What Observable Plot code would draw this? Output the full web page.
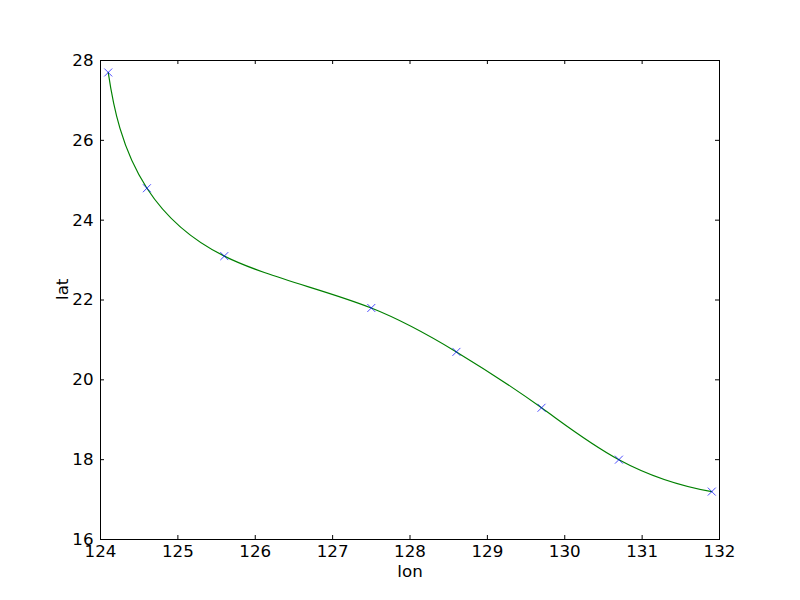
<!DOCTYPE html>
<html>
<head>
<meta charset="utf-8">
<script src="https://cdn.jsdelivr.net/npm/d3@7"></script>
<script src="https://cdn.jsdelivr.net/npm/@observablehq/plot@0.6"></script>
<style>
  html, body { margin: 0; padding: 0; background: #fff; }
  svg { display: block; }
</style>
</head>
<body>
<div id="chart"></div>
<script>
const lon = [124.1, 124.6, 125.6, 127.5, 128.6, 129.7, 130.7, 131.9];
const lat = [27.7, 24.8, 23.1, 21.8, 20.7, 19.3, 18.0, 17.2];
const xTicks = [124, 125, 126, 127, 128, 129, 130, 131, 132];
const yTicks = [16, 18, 20, 22, 24, 26, 28];

const data = lon.map((x, i) => ({lon: x, lat: lat[i]}));

const W = 800, H = 600;
const mL = 100, mR = 81, mT = 60, mB = 61;
const fw = W - mL - mR, fh = H - mT - mB;
const tl = 4;
const xDomain = [124, 132], yDomain = [16, 28];

// slopes of a not-a-knot cubic spline v(t)
function splineSlopes(t, v) {
  const n = t.length;
  const h = [], d = [];
  for (let i = 0; i < n - 1; i++) { h.push(t[i + 1] - t[i]); d.push((v[i + 1] - v[i]) / h[i]); }
  const A = Array.from({length: n}, () => new Array(n).fill(0));
  const b = new Array(n).fill(0);
  A[0][0] = h[1]; A[0][1] = -(h[0] + h[1]); A[0][2] = h[0];
  for (let i = 1; i < n - 1; i++) {
    A[i][i - 1] = h[i - 1]; A[i][i] = 2 * (h[i - 1] + h[i]); A[i][i + 1] = h[i];
    b[i] = 6 * (d[i] - d[i - 1]);
  }
  A[n - 1][n - 3] = h[n - 2]; A[n - 1][n - 2] = -(h[n - 3] + h[n - 2]); A[n - 1][n - 1] = h[n - 3];
  for (let c = 0; c < n; c++) {
    let p = c;
    for (let r = c + 1; r < n; r++) if (Math.abs(A[r][c]) > Math.abs(A[p][c])) p = r;
    [A[c], A[p]] = [A[p], A[c]]; [b[c], b[p]] = [b[p], b[c]];
    for (let r = c + 1; r < n; r++) {
      const f = A[r][c] / A[c][c];
      for (let k = c; k < n; k++) A[r][k] -= f * A[c][k];
      b[r] -= f * b[c];
    }
  }
  const M = new Array(n).fill(0);
  for (let r = n - 1; r >= 0; r--) {
    let s = b[r];
    for (let k = r + 1; k < n; k++) s -= A[r][k] * M[k];
    M[r] = s / A[r][r];
  }
  const m = [];
  for (let i = 0; i < n - 1; i++) m.push(d[i] - h[i] * (2 * M[i] + M[i + 1]) / 6);
  m.push(d[n - 2] + h[n - 2] * (M[n - 2] + 2 * M[n - 1]) / 6);
  return {m, h};
}

// Custom curve: parametric interpolating cubic spline with chord-length parameter (data units)
function curveParamSpline(context) {
  const sx = fw / (xDomain[1] - xDomain[0]), sy = fh / (yDomain[1] - yDomain[0]);
  let xs = [], ys = [];
  return {
    areaStart() {}, areaEnd() {},
    lineStart() { xs = []; ys = []; },
    point(x, y) { xs.push(+x); ys.push(+y); },
    lineEnd() {
      const n = xs.length;
      if (n === 0) return;
      context.moveTo(xs[0], ys[0]);
      if (n < 4) { for (let i = 1; i < n; i++) context.lineTo(xs[i], ys[i]); return; }
      const u = [0];
      for (let i = 1; i < n; i++) u.push(u[i - 1] + Math.hypot((xs[i] - xs[i - 1]) / sx, (ys[i] - ys[i - 1]) / sy));
      const X = splineSlopes(u, xs), Y = splineSlopes(u, ys);
      for (let i = 0; i < n - 1; i++) {
        const t = X.h[i] / 3;
        context.bezierCurveTo(xs[i] + X.m[i] * t, ys[i] + Y.m[i] * t,
                              xs[i + 1] - X.m[i + 1] * t, ys[i + 1] - Y.m[i + 1] * t,
                              xs[i + 1], ys[i + 1]);
      }
    }
  };
}

const chart = Plot.plot({
  width: W,
  height: H,
  marginLeft: mL,
  marginRight: mR,
  marginTop: mT,
  marginBottom: mB,
  style: {fontFamily: "DejaVu Sans", fontSize: "16.7px", color: "black", background: "white"},
  x: {domain: xDomain},
  y: {domain: yDomain},
  marks: [
    Plot.line(data, {x: "lon", y: "lat", stroke: "#008000", strokeWidth: 1.2, curve: curveParamSpline}),
    Plot.dot(data, {x: "lon", y: "lat", symbol: "times", stroke: "#0000ff", strokeWidth: 0.7, r: 3.7}),
    Plot.tickX(xTicks, {x: d => d, insetTop: fh - tl, stroke: "black"}),
    Plot.tickX(xTicks, {x: d => d, insetBottom: fh - tl, stroke: "black"}),
    Plot.tickY(yTicks, {y: d => d, insetRight: fw - tl, stroke: "black"}),
    Plot.tickY(yTicks, {y: d => d, insetLeft: fw - tl, stroke: "black"}),
    Plot.axisX({ticks: xTicks, tickSize: 0, tickPadding: 6, label: null, fontSize: 16.7}),
    Plot.axisY({ticks: yTicks, tickSize: 0, tickPadding: 7, label: null, fontSize: 16.7}),
    Plot.frame({stroke: "black", strokeWidth: 1}),
    Plot.text(["lon"], {frameAnchor: "bottom", dy: 32, lineAnchor: "middle", fontSize: 16.7, fill: "black"}),
    Plot.text(["lat"], {frameAnchor: "left", dx: -38, rotate: -90, lineAnchor: "middle", fontSize: 16.7, fill: "black"})
  ]
});
document.getElementById("chart").appendChild(chart);
</script>
</body>
</html>
